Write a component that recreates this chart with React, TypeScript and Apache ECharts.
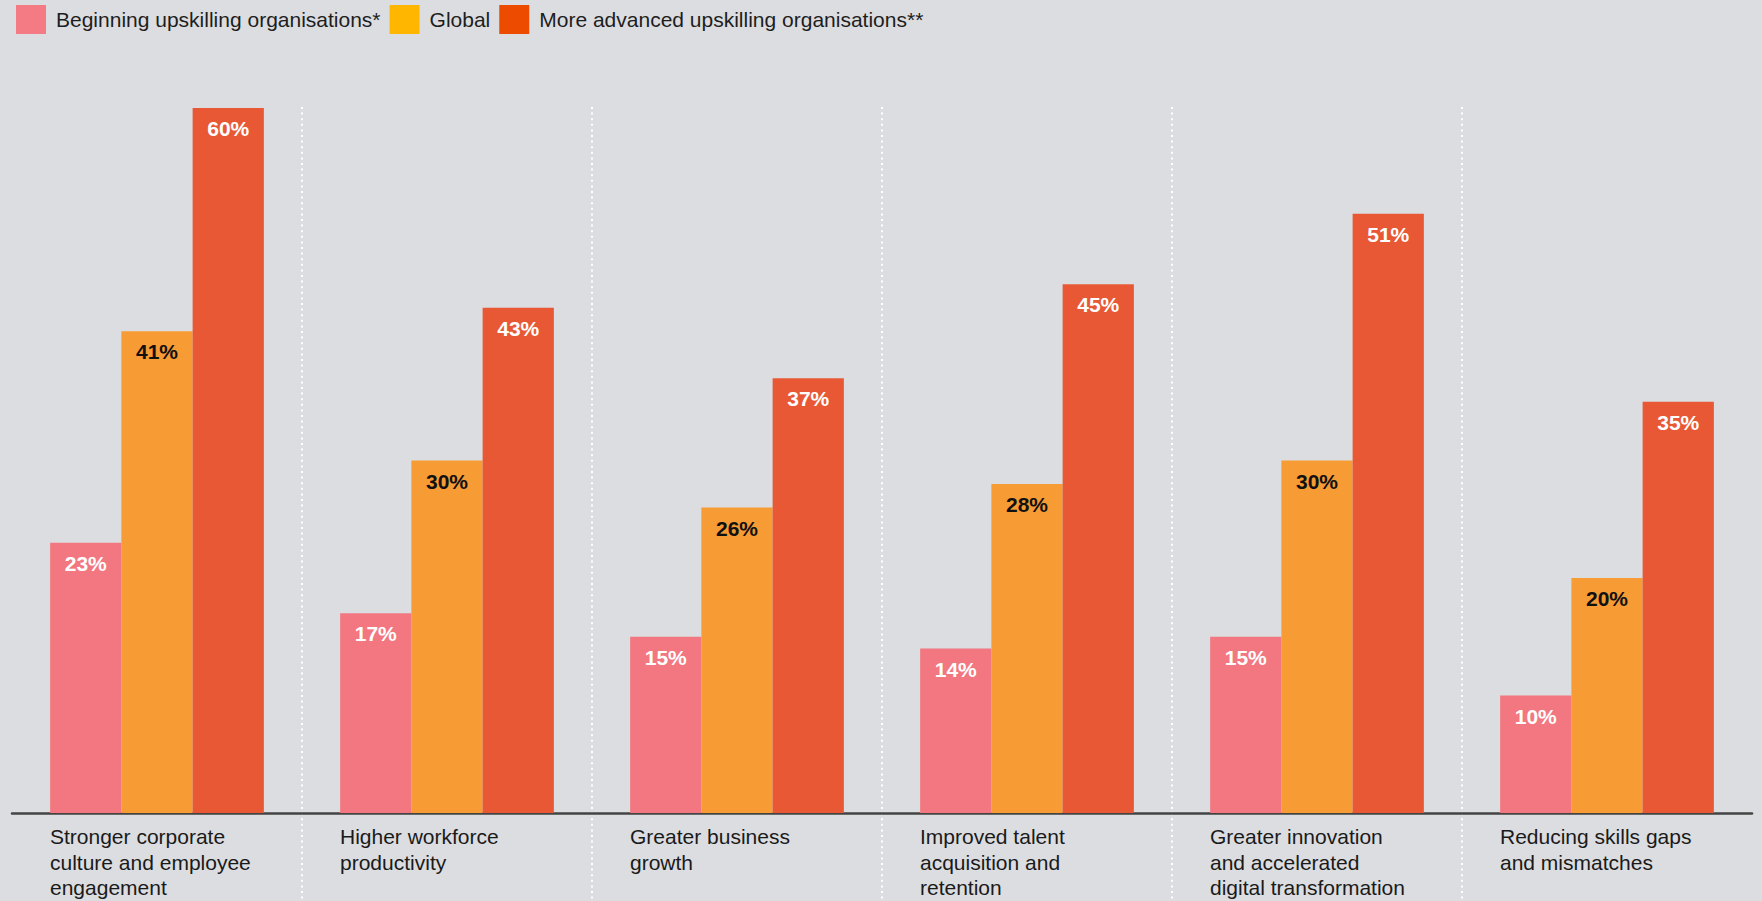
import React, { useEffect, useRef } from "react";
import * as echarts from "echarts";

const categories = [
  "Stronger corporate\nculture and employee\nengagement",
  "Higher workforce\nproductivity",
  "Greater business\ngrowth",
  "Improved talent\nacquisition and\nretention",
  "Greater innovation\nand accelerated\ndigital transformation",
  "Reducing skills gaps\nand mismatches",
];
const seriesNames = [
  "Beginning upskilling organisations*",
  "Global",
  "More advanced upskilling organisations**",
];
const beginning = [23, 17, 15, 14, 15, 10];
const global = [41, 30, 26, 28, 30, 20];
const advanced = [60, 43, 37, 45, 51, 35];

const barColors = ["#F27780", "#F79B34", "#E85835"];
const legendColors = ["#F47B84", "#FFB600", "#EC4B00"];
const labelColors = ["#ffffff", "#111111", "#ffffff"];

const FONT = "'Liberation Sans', Arial, Helvetica, sans-serif";

export default function App() {
  const ref = useRef<HTMLDivElement>(null);
  useEffect(() => {
    document.body.style.margin = "0";
    const chart = echarts.init(ref.current!, null, { renderer: "svg" });
    const values = [beginning, global, advanced];
    chart.setOption({
      animation: false,
      backgroundColor: "#DCDDE0",
      textStyle: { fontFamily: FONT },
      legend: {
        left: 16,
        top: 5,
        padding: 0,
        icon: "rect",
        itemWidth: 30,
        itemHeight: 29,
        itemGap: 9,
        textStyle: { fontSize: 21, color: "#1e1e1e", fontFamily: FONT, padding: [0, 0, 0, 5] },
        data: seriesNames.map((n, i) => ({ name: n, itemStyle: { color: legendColors[i] } })),
      },
      grid: [
        { left: 12, right: 10, top: 108, bottom: 88, containLabel: false },
        { left: 12, right: 10, top: 107, bottom: 0, containLabel: false },
      ],
      xAxis: [
        {
          type: "category",
          gridIndex: 0,
          data: categories,
          axisLine: { show: true, lineStyle: { color: "#434343", width: 2.5 } },
          axisTick: { show: false },
          splitLine: { show: false },
          axisLabel: {
            interval: 0,
            align: "left",
            verticalAlign: "top",
            padding: [0, 0, 0, -107],
            margin: 11,
            fontSize: 21,
            lineHeight: 25.5,
            color: "#1a1a1a",
            fontFamily: FONT,
          },
        },
        {
          type: "category",
          gridIndex: 1,
          data: categories,
          axisLine: { show: false },
          axisTick: { show: false },
          axisLabel: { show: false },
          splitLine: {
            show: true,
            showMinLine: false,
            showMaxLine: false,
            lineStyle: { color: "#ffffff", width: 2, type: [2, 3.6] },
          },
        },
      ],
      yAxis: [
        { type: "value", gridIndex: 0, min: 0, max: 60, show: false, splitLine: { show: false } },
        { type: "value", gridIndex: 1, min: 0, max: 1, show: false, splitLine: { show: false } },
      ],
      series: seriesNames.map((n, i) => ({
        name: n,
        type: "bar",
        xAxisIndex: 0,
        yAxisIndex: 0,
        data: values[i],
        barGap: "0%",
        barCategoryGap: "26.3%",
        itemStyle: { color: barColors[i] },
        label: {
          show: true,
          position: "insideTop",
          distance: 10,
          formatter: "{c}%",
          fontSize: 21,
          fontWeight: "bold",
          color: labelColors[i],
          fontFamily: FONT,
        },
      })),
    });
    return () => chart.dispose();
  }, []);
  return <div ref={ref} style={{ width: 1762, height: 901 }} />;
}
